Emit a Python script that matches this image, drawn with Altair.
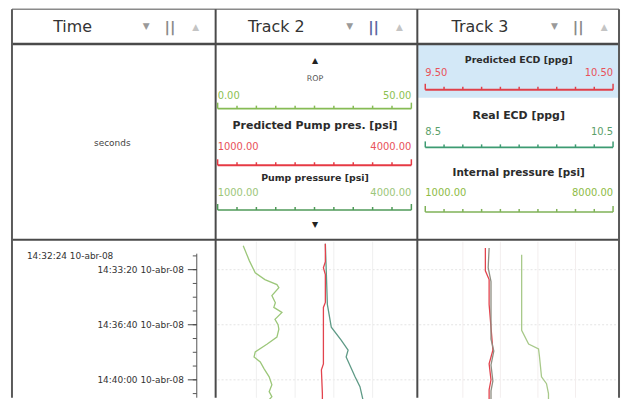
import altair as alt
import pandas as pd

# ---------------- data ----------------
DATE = "10-abr-08"
BASE = "14:30:00"

# Track 2 – ROP (0 .. 50)
rop_time = ["14:31:53", "14:32:48", "14:33:31", "14:33:56", "14:34:14", "14:34:25",
            "14:34:54", "14:35:20", "14:35:37", "14:35:55", "14:36:20", "14:36:40",
            "14:36:56", "14:37:25", "14:37:50", "14:38:19", "14:38:37", "14:38:55",
            "14:39:20", "14:39:49", "14:40:18", "14:40:43", "14:41:01", "14:41:30"]
rop_val = [6.6, 8.2, 9.7, 12.2, 15.3, 15.8,
           14.0, 14.9, 14.5, 16.6, 14.8, 15.6,
           15.8, 15.3, 12.8, 9.7, 9.4, 11.0,
           12.0, 13.3, 14.0, 13.3, 14.0, 12.2]

# Track 2 – Predicted pump pressure [psi] (1000 .. 4000)
ppump_time = ["14:31:46", "14:32:51", "14:33:13", "14:33:38", "14:35:19", "14:35:37",
              "14:37:32", "14:39:02", "14:39:24", "14:40:50", "14:41:34"]
ppump_val = [2668, 2668, 2638, 2668, 2668, 2638, 2638, 2638, 2607, 2622, 2622]

# Track 2 – Pump pressure [psi] (1000 .. 4000)
pump_time = ["14:31:46", "14:33:38", "14:35:26", "14:36:49", "14:37:36", "14:38:12",
             "14:38:37", "14:39:49", "14:40:25", "14:41:12", "14:41:34"]
pump_val = [2668, 2684, 2699, 2760, 2913, 3020, 2990, 3128, 3204, 3250, 3265]

# Track 3 – Predicted ECD [ppg] (9.5 .. 10.5)
pecd_time = ["14:32:01", "14:33:24", "14:33:56", "14:35:26", "14:38:12", "14:39:02",
             "14:40:00", "14:40:36", "14:41:34"]
pecd_val = [9.82, 9.82, 9.84, 9.84, 9.86, 9.84, 9.85, 9.84, 9.84]

# Track 3 – Real ECD [ppg] (8.5 .. 10.5)
recd_time = ["14:32:01", "14:33:13", "14:34:03", "14:37:32", "14:38:15", "14:39:06",
             "14:40:04", "14:40:40", "14:41:34"]
recd_val = [9.18, 9.17, 9.20, 9.20, 9.23, 9.20, 9.22, 9.20, 9.20]

# Track 3 – Internal pressure [psi] (1000 .. 8000)
ipres_time = ["14:32:26", "14:37:00", "14:37:50", "14:38:08", "14:38:37", "14:39:49",
              "14:40:14", "14:40:50", "14:41:34"]
ipres_val = [4593, 4593, 4852, 5222, 5259, 5333, 5519, 5593, 5593]

# Time axis
major_ticks = ["14:33:20", "14:36:40", "14:40:00"]
minor_ticks = ["14:32:30", "14:33:20", "14:34:10", "14:35:00", "14:35:50", "14:36:40",
               "14:37:30", "14:38:20", "14:39:10", "14:40:00", "14:40:50", "14:41:40"]
start_time = "14:32:24"
view_time = ["14:31:35", "14:41:05"]


def secs(hms):
    h, m, s = map(int, hms.split(":"))
    bh, bm, bs = map(int, BASE.split(":"))
    return (h * 3600 + m * 60 + s) - (bh * 3600 + bm * 60 + bs)


# ---------------- layout ----------------
W, H = 617, 391
one = pd.DataFrame({"k": [0]})
FONT = "DejaVu Sans"
YS = alt.Scale(domain=[secs(view_time[0]), secs(view_time[1])], range=[233, 391])
T2 = [211, 406]
T3 = [420, 609]

layers = []


def rule(x1, x2, y1, y2, color, w, dash=None):
    enc = dict(x=alt.value(x1), y=alt.value(y1))
    if x2 is not None:
        enc["x2"] = alt.value(x2)
    if y2 is not None:
        enc["y2"] = alt.value(y2)
    kw = dict(color=color, strokeWidth=w)
    if dash:
        kw["strokeDash"] = dash
    layers.append(alt.Chart(one).mark_rule(**kw).encode(**enc))


def label(txt, x, y, size, color="#333333", bold=False, align="center"):
    layers.append(alt.Chart(one).mark_text(
        text=txt, align=align, baseline="middle", fontSize=size,
        fontWeight="bold" if bold else "normal", color=color, font=FONT
    ).encode(x=alt.value(x), y=alt.value(y)))


# highlighted scale cell (Track 3)
layers.append(alt.Chart(one).mark_rect(color="#d3e8f7").encode(
    x=alt.value(412), x2=alt.value(615), y=alt.value(36), y2=alt.value(89)))

# grid in tracks
for tk in major_ticks:
    pass
grid_df = pd.DataFrame({"t": [secs(t) for t in major_ticks]})
for xa, xb in [(211, 410), (414, 613)]:
    layers.append(alt.Chart(grid_df).mark_rule(color="#e4e4e4", strokeWidth=1, strokeDash=[2, 2]).encode(
        x=alt.value(xa), x2=alt.value(xb), y=alt.Y("t:Q", scale=YS, axis=None)))
vg2 = pd.DataFrame({"v": [10, 20, 30, 40]})
layers.append(alt.Chart(vg2).mark_rule(color="#efefef", strokeWidth=1).encode(
    x=alt.X("v:Q", scale=alt.Scale(domain=[0, 50], range=T2), axis=None),
    y=alt.value(234), y2=alt.value(391)))
vg3 = pd.DataFrame({"v": [9.7, 9.9, 10.1, 10.3]})
layers.append(alt.Chart(vg3).mark_rule(color="#f3eeee", strokeWidth=1).encode(
    x=alt.X("v:Q", scale=alt.Scale(domain=[9.5, 10.5], range=T3), axis=None),
    y=alt.value(234), y2=alt.value(391)))

# table borders
rule(4, 615, 0, None, "#8a8a8a", 1.5)
rule(4, 615, 35, None, "#4a4a4a", 2.5)
rule(4, 615, 232, None, "#4a4a4a", 2)
rule(4, None, 0, 391, "#5a5a5a", 2)
rule(615, None, 0, 391, "#5a5a5a", 2)
rule(209, None, 0, 391, "#4a4a4a", 2)
rule(412, None, 0, 391, "#4a4a4a", 2)

# headers
heads = [("Time", 65, 139, "#8a8a8a"), ("Track 2", 270, 344, "#5b67a3"), ("Track 3", 475, 550, "#8a8a8a")]
for name, cx, ix, barc in heads:
    label(name, cx, 18, 16, "#333333")
    label("\u25BC", ix, 17, 9, "#9a9a9a")
    label("||", ix + 24, 18, 15, barc, bold=True)
    label("\u25B2", ix + 50, 18, 9, "#c4c4c4")

label("seconds", 105, 135, 9, "#444444")


# scale bars
def scale_bar(lo, hi, rng, ybar, ylab, barc, labc, lo_txt, hi_txt, bw=1.6):
    sc = alt.Scale(domain=[lo, hi], range=rng)
    X = alt.X("v:Q", scale=sc, axis=None)
    layers.append(alt.Chart(pd.DataFrame({"v": [lo], "w": [hi]})).mark_rule(color=barc, strokeWidth=bw).encode(
        x=X, x2="w:Q", y=alt.value(ybar)))
    layers.append(alt.Chart(pd.DataFrame({"v": [lo, hi]})).mark_rule(color=barc, strokeWidth=1.5).encode(
        x=X, y=alt.value(ybar - 6), y2=alt.value(ybar)))
    tv = [lo + (hi - lo) * i / 10 for i in range(1, 10)]
    layers.append(alt.Chart(pd.DataFrame({"v": tv})).mark_rule(color=barc, strokeWidth=1.5).encode(
        x=X, y=alt.value(ybar - 3), y2=alt.value(ybar)))
    layers.append(alt.Chart(pd.DataFrame({"v": [lo], "s": [lo_txt]})).mark_text(
        align="left", baseline="middle", fontSize=10, color=labc, font=FONT).encode(
        x=X, y=alt.value(ylab), text="s:N"))
    layers.append(alt.Chart(pd.DataFrame({"v": [hi], "s": [hi_txt]})).mark_text(
        align="right", baseline="middle", fontSize=10, color=labc, font=FONT).encode(
        x=X, y=alt.value(ylab), text="s:N"))


# Track 2 scale area
label("\u25B2", 309, 52, 8, "#222222")
label("ROP", 309, 70, 8, "#555555")
scale_bar(0, 50, T2, 100, 87, "#86bb55", "#8cc152", "0.00", "50.00")
label("Predicted Pump pres. [psi]", 309, 118, 11, "#2b2b2b", bold=True)
scale_bar(1000, 4000, T2, 157, 139, "#e63a44", "#e8525a", "1000.00", "4000.00", bw=2.2)
label("Pump pressure [psi]", 309, 170, 9.5, "#2b2b2b", bold=True)
scale_bar(1000, 4000, T2, 202, 185, "#4f9a58", "#9cc67a", "1000.00", "4000.00")
label("\u25BC", 309, 217, 8, "#222222")

# Track 3 scale area
label("Predicted ECD [ppg]", 514, 51, 9.5, "#2b2b2b", bold=True)
scale_bar(9.5, 10.5, T3, 81, 64, "#e0404a", "#e8525a", "9.50", "10.50", bw=2.2)
label("Real ECD [ppg]", 514, 107, 11, "#2b2b2b", bold=True)
scale_bar(8.5, 10.5, T3, 139, 124, "#3d9b72", "#5aa06a", "8.5", "10.5")
label("Internal pressure [psi]", 514, 165, 10.5, "#2b2b2b", bold=True)
scale_bar(1000, 8000, T3, 204, 185, "#7fb257", "#8dbb45", "1000.00", "8000.00")

# Time axis
label(f"{start_time} {DATE}", 19, 248, 9, "#333333", align="left")
rule(190, None, 246, 391, "#555555", 1)
layers.append(alt.Chart(pd.DataFrame({"t": [secs(t) for t in minor_ticks]})).mark_rule(
    color="#555555", strokeWidth=1).encode(
    x=alt.value(186), x2=alt.value(190), y=alt.Y("t:Q", scale=YS, axis=None)))
maj_df = pd.DataFrame({"t": [secs(t) for t in major_ticks],
                       "s": [f"{t} {DATE}" for t in major_ticks]})
layers.append(alt.Chart(maj_df).mark_rule(color="#444444", strokeWidth=1).encode(
    x=alt.value(181), x2=alt.value(190), y=alt.Y("t:Q", scale=YS, axis=None)))
layers.append(alt.Chart(maj_df).mark_text(align="right", baseline="middle", fontSize=9,
                                          color="#333333", font=FONT).encode(
    x=alt.value(177), y=alt.Y("t:Q", scale=YS, axis=None), text="s:N"))


# curves
def curve(times, vals, lo, hi, rng, color, w=1.3):
    df = pd.DataFrame({"t": [secs(t) for t in times], "v": vals})
    layers.append(alt.Chart(df).mark_line(color=color, strokeWidth=w).encode(
        x=alt.X("v:Q", scale=alt.Scale(domain=[lo, hi], range=rng), axis=None),
        y=alt.Y("t:Q", scale=YS, axis=None),
        order=alt.Order("t:Q")))


curve(rop_time, rop_val, 0, 50, T2, "#9cc77a")
curve(pump_time, pump_val, 1000, 4000, T2, "#5e9a86")
curve(ppump_time, ppump_val, 1000, 4000, T2, "#e2434d")
curve(ipres_time, ipres_val, 1000, 8000, T3, "#a8c98a")
curve(pecd_time, pecd_val, 9.5, 10.5, T3, "#e2434d")
curve(recd_time, recd_val, 8.5, 10.5, T3, "#8e8e82")

chart = alt.layer(*layers).resolve_scale(x="independent", y="independent").properties(
    width=W, height=H, padding=0, autosize="none"
).configure_view(stroke=None)

chart.save("out.html", embed_options={"renderer": "svg", "actions": False})
